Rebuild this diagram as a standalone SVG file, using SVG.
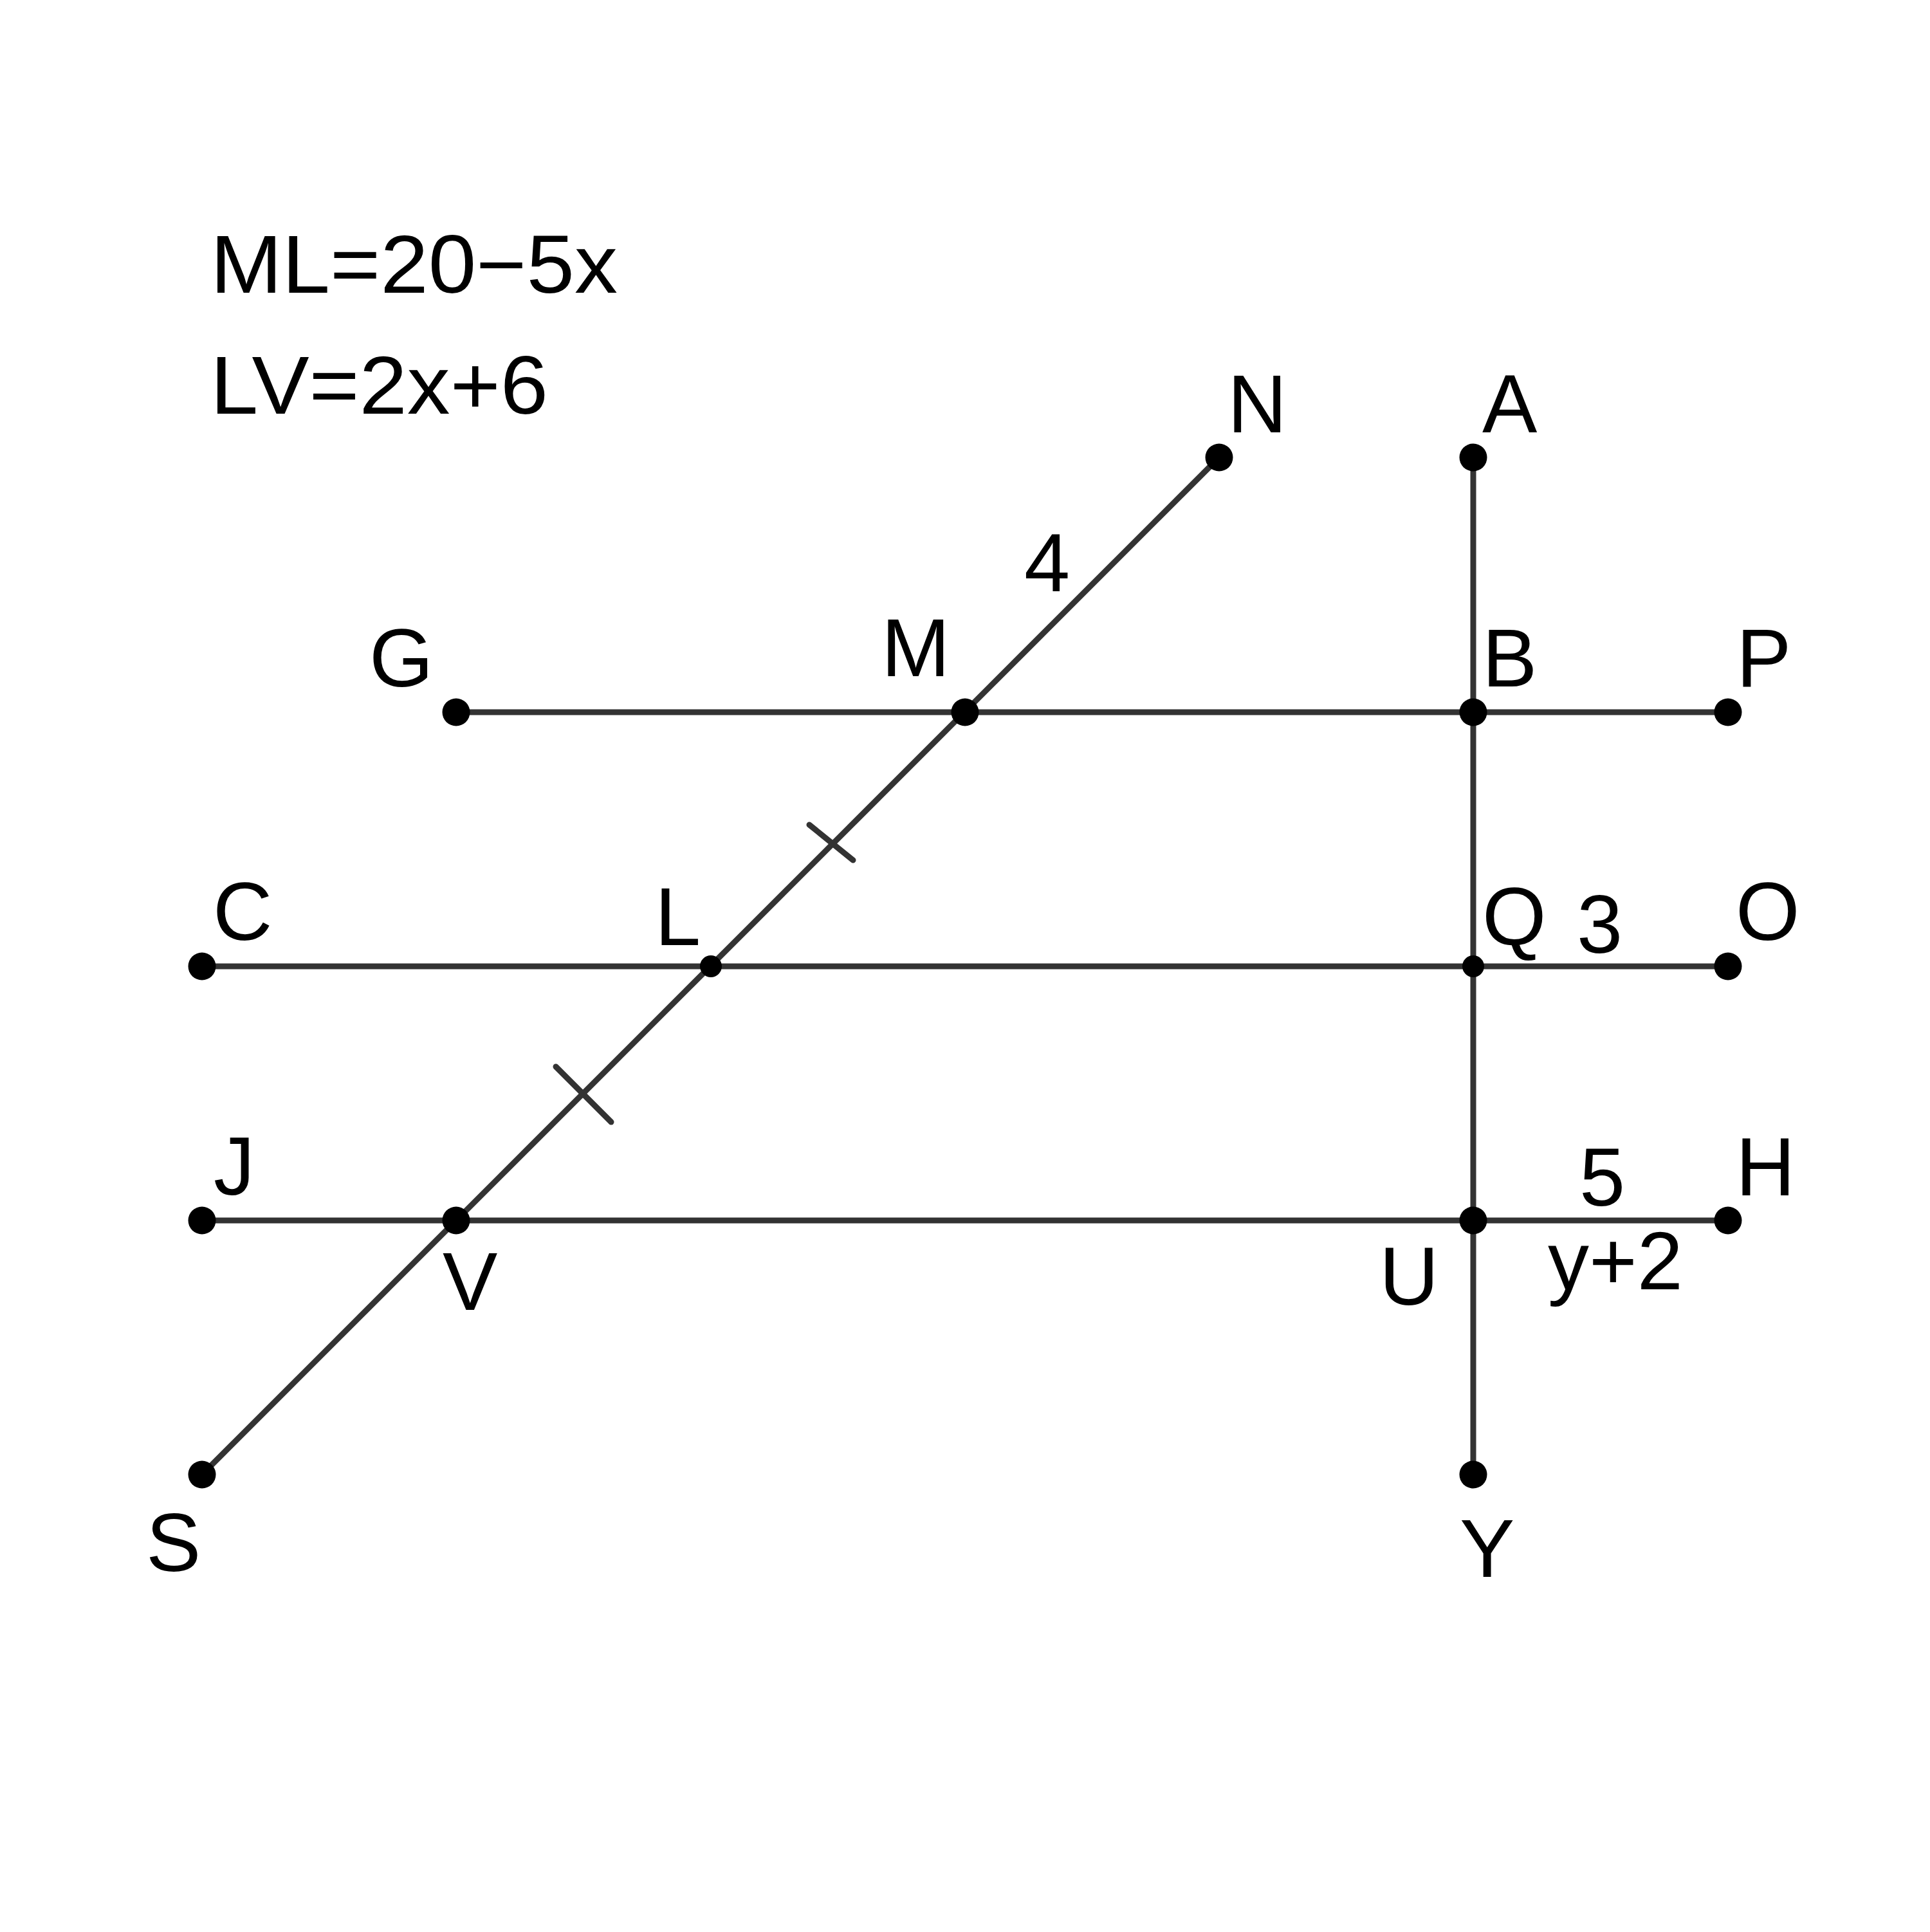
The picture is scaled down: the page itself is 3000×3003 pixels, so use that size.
<svg xmlns="http://www.w3.org/2000/svg" width="3000" height="3003" viewBox="0 0 3000 3003">
<style>
.ln{stroke:#333333;stroke-width:9;fill:none;stroke-linecap:butt}
.tk{stroke:#333333;stroke-width:9;fill:none;stroke-linecap:round}
.pt{fill:#000000}
text{font-family:"Liberation Sans",Arial,Helvetica,sans-serif;font-size:128px;fill:#000000}
</style>
<rect x="0" y="0" width="3000" height="3003" fill="#ffffff"/>
<g id="connectors">
<line class="ln" x1="314" y1="2292" x2="1895" y2="711"/>
<line class="ln" x1="2290" y1="711" x2="2290" y2="2292"/>
<line class="ln" x1="709" y1="1107" x2="2686" y2="1107"/>
<line class="ln" x1="314" y1="1502" x2="2686" y2="1502"/>
<line class="ln" x1="314" y1="1897" x2="2686" y2="1897"/>
<line class="tk" x1="1258" y1="1282" x2="1326" y2="1337"/>
<line class="tk" x1="864" y1="1658" x2="950" y2="1744"/>
</g>
<g id="formulas">
<text x="327" y="455" textLength="633" lengthAdjust="spacingAndGlyphs">ML=20−5x</text>
<text x="327" y="643" textLength="525" lengthAdjust="spacingAndGlyphs">LV=2x+6</text>
</g>
<g id="N"><circle class="pt" cx="1895" cy="711" r="21.5"/><text x="1908" y="672">N</text></g>
<g id="A"><circle class="pt" cx="2290" cy="711" r="21.5"/><text x="2304" y="672">A</text></g>
<g id="G"><circle class="pt" cx="709" cy="1107" r="21.5"/><text x="574" y="1067">G</text></g>
<g id="M"><circle class="pt" cx="1500" cy="1107" r="21.5"/><text x="1370" y="1051">M</text></g>
<g id="B"><circle class="pt" cx="2290" cy="1107" r="21.5"/><text x="2304" y="1067">B</text></g>
<g id="P"><circle class="pt" cx="2686" cy="1107" r="21.5"/><text x="2699" y="1067">P</text></g>
<g id="C"><circle class="pt" cx="314" cy="1502" r="21.5"/><text x="331" y="1461">C</text></g>
<g id="L"><circle class="pt" cx="1105" cy="1502" r="17"/><text x="1018" y="1469">L</text></g>
<g id="Q"><circle class="pt" cx="2290" cy="1502" r="17"/><text x="2304" y="1469">Q</text></g>
<g id="O"><circle class="pt" cx="2686" cy="1502" r="21.5"/><text x="2698" y="1461">O</text></g>
<g id="J"><circle class="pt" cx="314" cy="1897" r="21.5"/><text x="332" y="1857">J</text></g>
<g id="V"><circle class="pt" cx="709" cy="1897" r="21.5"/><text x="688" y="2036">V</text></g>
<g id="U"><circle class="pt" cx="2290" cy="1897" r="21.5"/><text x="2144" y="2028">U</text></g>
<g id="H"><circle class="pt" cx="2686" cy="1897" r="21.5"/><text x="2698" y="1858">H</text></g>
<g id="S"><circle class="pt" cx="314" cy="2292" r="21.5"/><text x="227" y="2442">S</text></g>
<g id="Y"><circle class="pt" cx="2290" cy="2292" r="21.5"/><text x="2269" y="2451">Y</text></g>
<g id="labels">
<text x="1592" y="919">4</text>
<text x="2451" y="1481">3</text>
<text x="2455" y="1874">5</text>
<text x="2406" y="2004">y+2</text>
</g>
</svg>
